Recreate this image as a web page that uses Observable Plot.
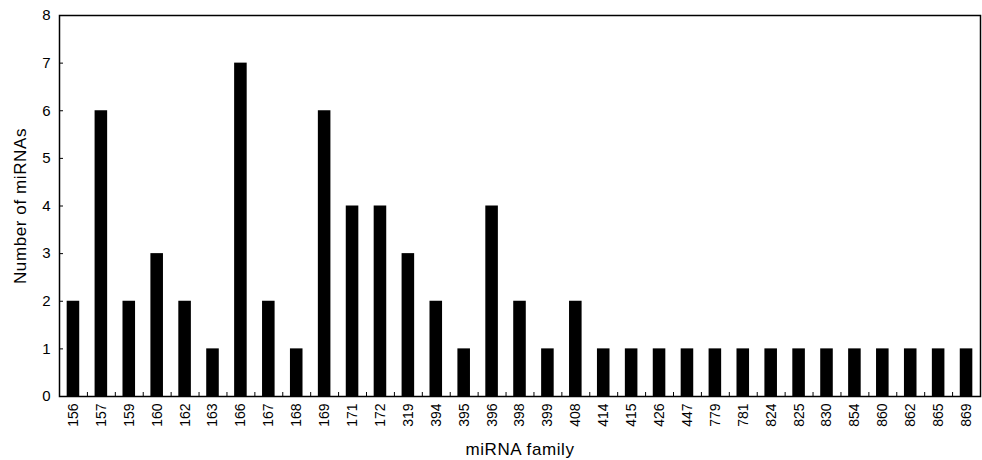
<!DOCTYPE html>
<html><head><meta charset="utf-8">
<script src="https://cdn.jsdelivr.net/npm/d3@7"></script>
<script src="https://cdn.jsdelivr.net/npm/@observablehq/plot@0.6"></script>
<style>body{margin:0;background:#fff;} svg{font-family:"Liberation Sans",Arial,sans-serif;}
g[aria-label="y-axis label"] text, g[aria-label="x-axis label"] text{letter-spacing:0.6px;font-size:17px;}
g[aria-label="y-axis tick label"] text{font-size:15px;}
g[aria-label="x-axis tick label"] text{font-size:14px;}</style>
</head><body><div id="chart"></div>
<script>
const families = ["156","157","159","160","162","163","166","167","168","169","171","172","319","394","395","396","398","399","408","414","415","426","447","779","781","824","825","830","854","860","862","865","869"];
const counts = [2,6,2,3,2,1,7,2,1,6,4,4,3,2,1,4,2,1,2,1,1,1,1,1,1,1,1,1,1,1,1,1,1];
const yTicks = [0,1,2,3,4,5,6,7,8];
const data = families.map((f,i)=>({family:f, count:counts[i]}));
const W = 982, H = 460, mL = 59, mR = 2, mT = 15, mB = 64;
const plotW = W - mL - mR, plotH = H - mT - mB;
const step = plotW / families.length;
const chart = Plot.plot({
  width: W, height: H,
  marginLeft: mL, marginRight: mR, marginTop: mT, marginBottom: mB,
  style: {fontSize: "14px", fontFamily: "Liberation Sans, Arial, sans-serif", color: "#000", background: "#fff"},
  x: {type: "band", domain: families, paddingInner: 0.55, paddingOuter: 0.275, round: false},
  y: {domain: [0, 8]},
  marks: [
    Plot.barY(data, {x: "family", y: "count", fill: "#000"}),
    Plot.ruleX(families.slice(0, -1), {x: d => d, dx: step / 2, insetTop: plotH - 4, stroke: "#000"}),
    Plot.ruleY(yTicks.slice(1, -1), {y: d => d, insetRight: plotW - 4, stroke: "#000"}),
    Plot.frame({stroke: "#000", strokeWidth: 1.5}),
    Plot.axisY(yTicks, {tickSize: 0, tickPadding: 9, label: "Number of miRNAs", labelAnchor: "center", labelArrow: "none", labelOffset: 46}),
    Plot.axisX({tickSize: 0, tickPadding: 7, tickRotate: -90, label: "miRNA family", labelAnchor: "center", labelArrow: "none", labelOffset: 58})
  ]
});
document.getElementById("chart").appendChild(chart);
</script></body></html>
